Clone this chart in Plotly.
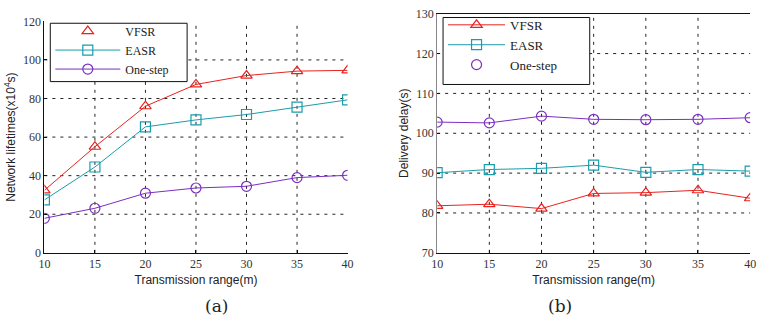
import plotly.graph_objects as go

x_range = [10, 15, 20, 25, 30, 35, 40]
y_ticks_a = [0, 20, 40, 60, 80, 100, 120]
y_ticks_b = [70, 80, 90, 100, 110, 120, 130]

# (a) Network lifetimes (x10^4 s)
life_vfsr = [32.4, 55, 76, 87.3, 91.9, 94.2, 94.6]
life_easr = [27.4, 44.5, 65.3, 68.9, 71.7, 75.5, 79.3]
life_one = [17.9, 23.1, 30.9, 33.6, 34.5, 39.0, 40.2]

# (b) Delivery delay (s)
delay_vfsr = [81.8, 82.2, 81.1, 84.9, 85.1, 85.7, 83.7]
delay_easr = [90.1, 90.9, 91.2, 92.0, 90.2, 90.9, 90.5]
delay_one = [102.8, 102.6, 104.3, 103.5, 103.4, 103.5, 103.9]

names = ["VFSR", "EASR", "One-step"]
colors = ["#e8231f", "#1b9cab", "#7b2fc0"]
symbols = ["triangle-up-open", "square-open", "circle-open"]

fig = go.Figure()

def mk(c, s):
    return dict(symbol=s, size=10, color=c, line=dict(width=1.2, color=c))

for vals, nm, c, s in zip([life_vfsr, life_easr, life_one], names, colors, symbols):
    fig.add_trace(go.Scatter(x=x_range, y=vals, mode="lines+markers", name=nm,
                             line=dict(color=c, width=1), marker=mk(c, s),
                             xaxis="x", yaxis="y", showlegend=False))
for vals, nm, c, s in zip([delay_vfsr, delay_easr, delay_one], names, colors, symbols):
    fig.add_trace(go.Scatter(x=x_range, y=vals, mode="lines+markers", name=nm,
                             line=dict(color=c, width=1), marker=mk(c, s),
                             xaxis="x2", yaxis="y2", showlegend=False))

# legend entries (as drawn in the original figure)
modes_a = ["markers", "lines+markers", "lines+markers"]
modes_b = ["lines+markers", "lines+markers", "markers"]
for nm, c, s, m in zip(names, colors, symbols, modes_a):
    fig.add_trace(go.Scatter(x=[None], y=[None], mode=m, name=nm,
                             line=dict(color=c, width=1), marker=mk(c, s),
                             xaxis="x", yaxis="y", legend="legend"))
for nm, c, s, m in zip(names, colors, symbols, modes_b):
    fig.add_trace(go.Scatter(x=[None], y=[None], mode=m, name=nm,
                             line=dict(color=c, width=1), marker=mk(c, s),
                             xaxis="x2", yaxis="y2", legend="legend2"))

tickfont = dict(family="Liberation Serif", size=12, color="#333")
titlefont = dict(family="Liberation Sans", size=12, color="#222")
W, H = 767, 322

def xaxis(domain, anchor, mirror):
    return dict(domain=domain, anchor=anchor, range=[10, 40], tickvals=x_range,
                showgrid=False,
                showline=True, linecolor="#111", linewidth=1, mirror=mirror,
                ticks="inside", ticklen=3, tickcolor="#111",
                tickfont=tickfont, zeroline=False,
                title=dict(text="Transmission range(m)", font=titlefont, standoff=5))

def yaxis(domain, anchor, ticks, title, lc):
    return dict(domain=domain, anchor=anchor, range=[ticks[0], ticks[-1]], tickvals=ticks,
                showgrid=False,
                showline=True, linecolor=lc, linewidth=1,
                ticks="inside", ticklen=3, tickcolor="#111",
                tickfont=tickfont, zeroline=False,
                title=dict(text=title, font=titlefont, standoff=4))

shapes = []
grid = dict(color="#222", width=1, dash="3px,5px")
for xr, yr, yt in [("x", "y", y_ticks_a), ("x2", "y2", y_ticks_b)]:
    for xv in x_range[1:-1]:
        shapes.append(dict(type="line", xref=xr, yref=yr + " domain", x0=xv, x1=xv, y0=0, y1=1,
                           line=grid, layer="below"))
    for yv in yt[1:-1]:
        shapes.append(dict(type="line", xref=xr + " domain", yref=yr, x0=0, x1=1, y0=yv, y1=yv,
                           line=grid, layer="below"))

# legend frames
for (l, t, r, b) in [(45, 17, 184, 78), (444, 11, 593, 81)]:
    shapes.append(dict(type="rect", xref="paper", yref="paper",
                       x0=l / W, x1=r / W, y0=(H - b) / H, y1=(H - t) / H,
                       fillcolor="white", line=dict(color="#111", width=1), layer="above"))

fig.update_layout(
    width=W, height=H, margin=dict(l=0, r=0, t=0, b=0),
    paper_bgcolor="white", plot_bgcolor="white",
    xaxis=xaxis([39 / W, 347 / W], "y", False),
    yaxis=yaxis([(H - 257) / H, (H - 15) / H], "x", y_ticks_a, "Network lifetimes(x10<sup>4</sup>s)", "#111"),
    xaxis2=xaxis([438 / W, 756 / W], "y2", True),
    yaxis2=yaxis([(H - 257) / H, (H - 7) / H], "x2", y_ticks_b, "Delivery delay(s)", "#888"),
    shapes=shapes,
    legend=dict(x=45 / W, y=(H - 10) / H, xanchor="left", yanchor="top",
                bgcolor="rgba(0,0,0,0)", borderwidth=0,
                font=dict(family="Liberation Serif", size=12, color="#222"), itemwidth=65),
    legend2=dict(x=444 / W, y=(H - 3) / H, xanchor="left", yanchor="top",
                 bgcolor="rgba(0,0,0,0)", borderwidth=0,
                 font=dict(family="Liberation Serif", size=13, color="#222"), itemwidth=57),
    showlegend=True,
    annotations=[
        dict(text="(a)", x=200 / W, y=(H - 313) / H, xref="paper", yref="paper", yanchor="middle",
             showarrow=False, font=dict(family="DejaVu Serif", size=17, color="#222")),
        dict(text="(b)", x=577 / W, y=(H - 313) / H, xref="paper", yref="paper", yanchor="middle",
             showarrow=False, font=dict(family="DejaVu Serif", size=17, color="#222")),
    ],
)

fig.write_html("out.html")
